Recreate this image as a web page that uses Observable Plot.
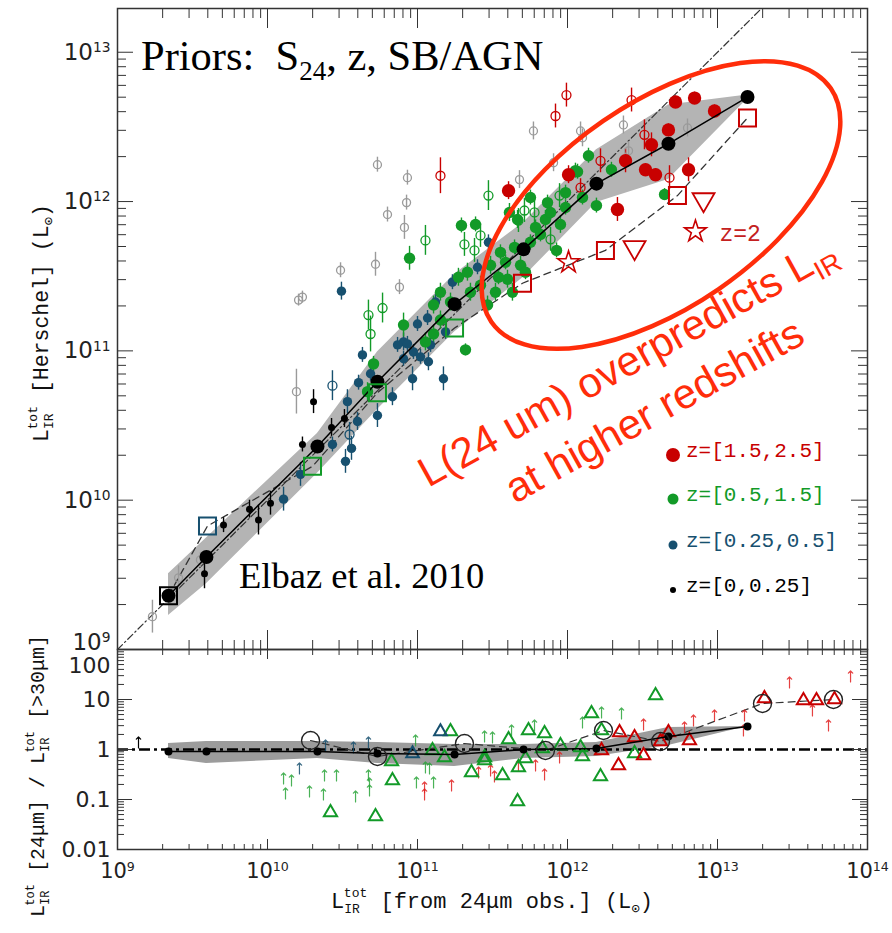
<!DOCTYPE html>
<html><head><meta charset="utf-8">
<script src="https://cdn.jsdelivr.net/npm/d3@7"></script>
<script src="https://cdn.jsdelivr.net/npm/@observablehq/plot@0.6"></script>
<style>
body{margin:0;background:#fff;}
#wrap{position:relative;width:892px;height:933px;overflow:hidden;background:#fff;}
#wrap svg{position:absolute;left:0;overflow:visible;}
</style></head><body><div id="wrap"></div>
<script>
// ---------- DATA (log10 units) ----------
// top panel: [log L_IR(24um), log L_IR(Herschel), half error bar in dex]
const blackSmall = [[9.58,9.507,0.1],[9.707,9.833,0.05],[9.88,9.94,0.06],[9.94,9.867,0.1],[10.02,9.98,0.08],[10.233,10.373,0.05],[10.307,10.66,0.08],[10.427,10.487,0.06],[10.513,10.547,0.06]];
const blueFilled = [[10.107,10.007,0.08],[10.22,10.173,0.08],[10.52,10.26,0.08],[10.56,10.347,0.08],[10.433,10.373,0.05],[10.6,10.527,0.06],[10.733,10.567,0.08],[10.533,10.66,0.08],[10.607,10.787,0.05],[10.633,10.973,0.05],[10.967,10.813,0.08],[10.907,11.06,0.06],[10.933,11.047,0.05],[10.973,10.993,0.05],[11.073,10.927,0.06],[11.173,10.813,0.08],[10.493,11.4,0.06],[10.867,11.04,0.05],[11.0,11.18,0.05],[11.12,11.327,0.05],[11.233,11.46,0.05],[11.4,11.56,0.05],[11.473,11.727,0.05],[11.067,11.22,0.05],[11.087,11.04,0.05],[10.907,10.947,0.05],[10.687,10.847,0.05],[10.833,10.693,0.06],[11.02,10.96,0.05],[11.187,11.127,0.05]];
const greenFilled = [[10.707,10.913,0.05],[10.667,10.727,0.06],[10.947,11.62,0.08],[10.907,11.173,0.08],[11.107,11.307,0.06],[11.107,11.113,0.06],[11.32,11.007,0.04],[11.293,11.84,0.05],[11.387,11.847,0.05],[11.467,11.307,0.06],[11.273,11.493,0.06],[11.613,11.927,0.06],[11.667,11.88,0.06],[11.867,11.993,0.05],[11.853,11.88,0.06],[11.953,11.847,0.06],[11.927,11.673,0.05],[12.067,12.2,0.05],[12.14,12.307,0.05],[12.193,11.973,0.05],[12.053,12.207,0.05],[12.1,12.027,0.05],[12.293,12.213,0.05],[12.647,12.047,0.04],[11.687,11.573,0.06],[11.6,11.48,0.06],[11.487,11.573,0.06],[11.42,11.44,0.06],[11.333,11.527,0.06],[11.553,11.66,0.05],[11.647,11.693,0.05],[11.753,11.727,0.05],[11.82,11.78,0.05],[11.587,11.593,0.05],[11.52,11.393,0.06],[11.633,11.393,0.06],[11.72,11.527,0.05],[11.353,11.393,0.06],[11.22,11.327,0.06],[11.153,11.393,0.06],[11.54,11.493,0.05],[11.787,11.827,0.05],[11.887,11.927,0.05],[11.987,11.96,0.05],[11.987,12.06,0.05],[11.753,12.027,0.05],[11.053,11.06,0.06],[11.153,11.207,0.06]];
const redFilled = [[11.607,12.073,0.06],[12.007,12.18,0.06],[12.72,12.667,0.04],[12.847,12.693,0.04],[12.98,12.607,0.04],[12.673,12.48,0.04],[12.56,12.38,0.08],[12.387,12.273,0.08],[12.52,12.213,0.04],[12.587,12.18,0.04],[12.807,12.213,0.08],[12.333,11.947,0.08]];
const grayOpen = [[9.233,9.22,0.11],[9.407,9.48,0.08],[9.553,9.6,0.05],[10.193,10.727,0.15],[10.233,11.36,0.04],[10.207,11.34,0.04],[10.487,11.54,0.05],[10.72,11.58,0.08],[10.88,11.427,0.05],[10.913,11.827,0.08],[10.8,11.913,0.05],[10.927,11.993,0.05],[10.733,12.247,0.05],[10.933,12.16,0.05],[11.68,12.147,0.06],[11.773,12.473,0.06],[12.087,12.473,0.06],[11.907,12.26,0.06],[12.373,12.513,0.06],[12.407,12.34,0.06],[12.8,12.493,0.06],[12.1,12.427,0.06]];
const blueOpen = [[10.433,10.767,0.1],[10.547,10.44,0.08]];
const greenOpen = [[10.687,11.113,0.12],[10.673,11.24,0.1],[10.767,11.287,0.1],[11.053,11.74,0.1],[11.313,11.713,0.08],[11.42,11.773,0.08],[11.38,11.673,0.08],[11.473,12.04,0.1],[11.713,11.94,0.08],[11.78,11.927,0.08],[11.947,12.04,0.08],[11.887,11.747,0.08],[11.673,11.873,0.08]];
const redOpen = [[11.153,12.173,0.12],[11.993,12.713,0.08],[11.92,12.573,0.08],[12.427,12.68,0.08],[12.513,12.447,0.1],[12.22,12.273,0.08],[12.087,12.093,0.06],[12.68,12.16,0.08]];

// median relation and its dispersion
const medX   = [9.34, 9.593, 10.333, 10.733, 11.247, 11.707, 12.193, 12.673, 13.2];
const medY   = [9.36, 9.62, 10.36, 10.793, 11.313, 11.68, 12.12, 12.387, 12.7];
const bandHi = [9.507, 9.747, 10.447, 10.993, 11.513, 11.86, 12.347, 12.647, 12.713];
const bandLo = [9.227, 9.44, 10.18, 10.607, 11.127, 11.493, 11.993, 12.147, 12.687];
// template predictions (squares) and their redshift bin
const sqX = [9.34, 9.6, 10.3, 10.733, 11.247, 11.7, 12.253, 12.733, 13.2];
const sqY = [9.36, 9.827, 10.227, 10.72, 11.153, 11.453, 11.673, 12.04, 12.56];
const sqBin = ["k","b","g","g","g","r","r","r","r"];
const downTri = [[12.447,11.693],[12.907,12.013]];
const stars = [[12.007,11.593],[12.853,11.8]];
const starLabel = ["", "z=2"];
const oneToOne = [9, 13.293];

// bottom panel: ratio L(24um)/L(>30um), log10
const ratioMed = [-0.04,-0.04,-0.04,-0.08,-0.1,0,0.02,0.26,0.46];
const ratioHi  = [0.12,0.16,0.16,0.14,0.1,0.1,0.14,0.44,0.46];
const ratioLo  = [-0.18,-0.28,-0.18,-0.28,-0.34,-0.18,-0.14,0.08,0.46];
const circX = [10.287,10.733,11.313,11.853,12.24,12.62,13.3,13.773];
const circR = [0.18,-0.14,0.12,-0.02,0.38,0.16,0.92,1.0];
const greenTri = [[10.42,-1.26],[10.72,-1.34],[10.827,-0.24],[10.833,-0.62],[11.22,0.36],[11.36,-0.46],[11.447,-0.22],[11.567,-0.52],[11.667,-1.04],[11.673,-0.36],[11.72,-0.18],[11.74,0.38],[11.847,0.32],[11.607,0.2],[12.1,-0.14],[12.16,0.72],[12.22,-0.54],[12.587,1.08],[12.447,-0.08],[11.953,0.08],[11.1,-0.02],[11.18,-0.16],[11.447,-0.16],[11.833,0.02],[12.087,0.04],[12.227,0.38]];
const redTri = [[12.347,0.34],[12.34,-0.32],[12.447,0.24],[12.507,-0.12],[12.673,0.34],[12.813,0.18],[13.313,1.02],[13.573,0.98],[13.66,0.98],[13.78,1.0],[12.227,-0.02],[12.62,0.16]];
const blueTri = [[11.153,0.36],[10.967,-0.08]];
const greenArrows = [[10.107,-0.58],[10.16,-0.62],[10.12,-0.88],[10.28,-0.84],[10.38,-0.52],[10.46,-0.52],[10.373,-0.9],[10.587,-0.94],[10.673,-0.52],[10.68,-0.68],[10.68,-0.82],[10.987,0.18],[10.993,-0.66],[11.053,-0.36],[11.08,-0.38],[11.107,-0.66],[11.447,0.26],[11.5,0.24],[11.627,0.38],[11.78,0.48],[12.1,0.54],[12.227,0.74],[12.36,0.72]];
const redArrows = [[11.847,-0.5],[11.487,-0.42],[11.513,-0.54],[11.407,-0.46],[11.227,-0.72],[11.047,-0.76],[11.047,-0.9],[11.947,-0.16],[11.787,-0.32],[11.673,-0.32],[13.48,1.34],[13.887,1.46],[13.74,0.48],[12.98,0.68],[12.84,0.58],[12.78,0.44],[12.507,0.5],[13.18,0.68],[13.633,0.78],[13.173,0.38]];
const blueArrows = [[10.213,-0.38],[10.387,0.08],[10.573,0.04],[10.673,0.14]];
const blackArrows = [[9.14,0.14]];

// axes
const xDecades = [9,10,11,12,13,14];
const yDecadesTop = [9,10,11,12,13];
const ratioTicks = [0.01,0.1,1,10,100];
const ratioTickLabels = ["0.01","0.1","1","10","100"];
const legendLabels = ["z=[1.5,2.5]","z=[0.5,1.5]","z=[0.25,0.5]","z=[0,0.25]"];

// ---------- STYLE ----------
const RED="#c80000", GREEN="#129a28", BLUE="#17506f", GRAY="#9a9a9a", BLACK="#000", ANN="#ff2d0a";
const binColor = {k:BLACK,b:BLUE,g:GREEN,r:RED};
const P = v => Math.pow(10, v);
const pts = arr => arr.map(([x,y,e]) => ({x:P(x), y:P(y), y1:P(y-(e||0)), y2:P(y+(e||0))}));
const W = 892, ML = 117, MR = 25, FW = W-ML-MR;
const TOPH = 650, TMT = 8, TMB = 1, TFH = TOPH-TMT-TMB;
const BOTH = 284, BMB = 84, BFH = BOTH-BMB;
function minor(decs, lo, hi){const o=[];for(const e of decs)for(let m=2;m<10;m++){const v=m*P(e);if(v>lo*1.0001&&v<hi*0.9999)o.push(v);}return o;}
const xMaj = xDecades.map(P), xMin = minor([9,10,11,12,13],1e9,1e14);
const yTopMax = P(oneToOne[1]);
const yMajTop = yDecadesTop.map(P), yMinTop = minor([9,10,11,12,13],1e9,yTopMax);
const rMin = minor([-2,-1,0,1],0.01,100);
const supFmt = d => `10^${Math.round(Math.log10(d))}`;

function ticksMarks(FH, ya, yb, yMajor, yMinor, xTop, xBot){
  return [
    Plot.ruleX(xMaj,{x:d=>d,insetBottom:FH-xTop[0],stroke:"#333"}),
    Plot.ruleX(xMin,{x:d=>d,insetBottom:FH-xTop[1],stroke:"#333"}),
    Plot.ruleX(xMaj,{x:d=>d,insetTop:FH-xBot[0],stroke:"#333"}),
    Plot.ruleX(xMin,{x:d=>d,insetTop:FH-xBot[1],stroke:"#333"}),
    Plot.ruleY(yMajor,{y:d=>d,insetRight:FW-ya,stroke:"#333"}),
    Plot.ruleY(yMinor,{y:d=>d,insetRight:FW-yb,stroke:"#333"}),
    Plot.ruleY(yMajor,{y:d=>d,insetLeft:FW-ya,stroke:"#333"}),
    Plot.ruleY(yMinor,{y:d=>d,insetLeft:FW-yb,stroke:"#333"}),
    Plot.frame({stroke:"#333",strokeWidth:1.5})
  ];
}
function errs(arr,color){return Plot.ruleX(pts(arr),{x:"x",y1:"y1",y2:"y2",stroke:color,strokeWidth:1.4});}
function supers(svg, shift){
  d3.select(svg).selectAll("text").each(function(){
    const txt=this.textContent;
    if(shift && shift[txt]!==undefined) this.setAttribute("dy", shift[txt]);
    const m=/^10\^(-?\d+)$/.exec(txt);
    if(m){const t=d3.select(this);t.text("10");t.append("tspan").attr("dy","-0.55em").attr("font-size","0.6em").text(m[1]);}
  });
}

const medians = medX.map((x,i)=>({x:P(x),y:P(medY[i]),lo:P(bandLo[i]),hi:P(bandHi[i]),r:P(ratioMed[i]),rlo:P(ratioLo[i]),rhi:P(ratioHi[i])}));
const squares = sqX.map((x,i)=>({x:P(x),y:P(sqY[i]),c:binColor[sqBin[i]]}));

// ---------- TOP PANEL ----------
const topPlot = Plot.plot({
  width:W, height:TOPH, marginLeft:ML, marginRight:MR, marginTop:TMT, marginBottom:TMB,
  style:{background:"none",overflow:"visible",fontFamily:"DejaVu Sans, sans-serif",fontSize:"23px",color:"#222"},
  x:{type:"log",domain:[1e9,1e14],axis:null},
  y:{type:"log",domain:[1e9,yTopMax]},
  marks:[
    Plot.areaY(medians,{x:"x",y1:"lo",y2:"hi",fill:"#b4b4b4"}),
    Plot.line(oneToOne.map(P),{x:d=>d,y:d=>d,stroke:"#333",strokeWidth:1.2,strokeDasharray:"7,3,1.5,3"}),
    Plot.line(squares,{x:"x",y:"y",stroke:"#333",strokeWidth:1.3,strokeDasharray:"7,5"}),
    errs(grayOpen,GRAY), errs(blueOpen,BLUE), errs(greenOpen,GREEN), errs(redOpen,RED),
    errs(blackSmall,BLACK), errs(blueFilled,BLUE), errs(greenFilled,GREEN), errs(redFilled,RED),
    Plot.dot(pts(grayOpen),{x:"x",y:"y",r:4,stroke:GRAY,strokeWidth:1.3,fill:"none"}),
    Plot.dot(pts(blueOpen),{x:"x",y:"y",r:4.5,stroke:BLUE,strokeWidth:1.3,fill:"none"}),
    Plot.dot(pts(greenOpen),{x:"x",y:"y",r:4.5,stroke:GREEN,strokeWidth:1.3,fill:"none"}),
    Plot.dot(pts(redOpen),{x:"x",y:"y",r:4.5,stroke:RED,strokeWidth:1.3,fill:"none"}),
    Plot.dot(pts(blackSmall),{x:"x",y:"y",r:3.5,fill:BLACK}),
    Plot.dot(pts(blueFilled),{x:"x",y:"y",r:4.7,fill:BLUE}),
    Plot.dot(pts(greenFilled),{x:"x",y:"y",r:5.7,fill:GREEN}),
    Plot.dot(pts(redFilled),{x:"x",y:"y",r:6.7,fill:RED}),
    Plot.line(medians,{x:"x",y:"y",stroke:BLACK,strokeWidth:1.5}),
    Plot.dot(medians,{x:"x",y:"y",r:7,fill:BLACK}),
    Plot.dot(squares,{x:"x",y:"y",symbol:"square",r:9.6,stroke:"c",strokeWidth:2,fill:"none"}),
    Plot.dot(downTri.map(([x,y])=>({x:P(x),y:P(y)})),{x:"x",y:"y",symbol:"triangle2",rotate:180,r:10.5,stroke:RED,strokeWidth:1.8,fill:"none"}),
    Plot.dot(stars.map(([x,y])=>({x:P(x),y:P(y)})),{x:"x",y:"y",symbol:"star",r:6.8,stroke:RED,strokeWidth:1.6,fill:"none"}),
    Plot.text(stars.map(([x,y],i)=>({x:P(x),y:P(y),t:starLabel[i]})),{x:"x",y:"y",text:"t",dx:24,dy:2,textAnchor:"start",fill:"#c42020",fontSize:23,fontFamily:"Liberation Mono, monospace"}),
    ...ticksMarks(TFH, 16, 9, yMajTop, yMinTop, [20,10], [19,9]),
    Plot.axisY(yMajTop,{anchor:"left",tickSize:0,tickPadding:7,tickFormat:supFmt,fontSize:23,label:null})
  ]
});
topPlot.style.top = "0px";
document.getElementById("wrap").appendChild(topPlot);
supers(topPlot, {"10^9":"-0.3em"});

// overlays on top panel
{
  const s = d3.select(topPlot);
  const t1 = s.append("text").attr("x",141).attr("y",70).attr("text-anchor","start").attr("font-family","Liberation Serif, Times New Roman, serif").attr("font-size",42.5).attr("fill","#000").style("white-space","pre");
  t1.append("tspan").text("Priors:  S");
  t1.append("tspan").attr("font-size",27).attr("dy",10).text("24");
  t1.append("tspan").attr("dy",-10).text(", z, SB/AGN");
  s.append("text").attr("x",239).attr("y",588).attr("text-anchor","start").attr("font-family","Liberation Serif, Times New Roman, serif").attr("font-size",36.5).attr("fill","#000").text("Elbaz et al. 2010");
  // y title
  const yt = s.append("text").attr("transform","translate(48,323) rotate(-90)").attr("text-anchor","middle").attr("font-family","Liberation Mono, monospace").attr("font-size",21.5).attr("fill","#111").style("white-space","pre");
  yt.append("tspan").text("L");
  yt.append("tspan").attr("font-size",13).attr("dy",5).text("IR");
  yt.append("tspan").attr("font-size",13).attr("dy",-16).attr("dx",-16).text("tot");
  yt.append("tspan").attr("dy",11).text(" [Herschel] (L");
  yt.append("tspan").attr("font-size",14).attr("dy",5).text("⊙");
  yt.append("tspan").attr("dy",-5).text(")");
  // legend
  const lc=[RED,GREEN,BLUE,BLACK], lr=[7,5.5,4.5,3], ly=[455,499,545,590];
  legendLabels.forEach((lab,i)=>{
    s.append("circle").attr("cx",673).attr("cy",ly[i]).attr("r",lr[i]).attr("fill",lc[i]);
    s.append("text").attr("x",686).attr("y",ly[i]+2).attr("text-anchor","start").attr("font-family","Liberation Mono, monospace").attr("font-size",21).attr("fill",lc[i]).text(lab);
  });
  // annotation
  s.append("ellipse").attr("cx",0).attr("cy",0).attr("rx",206).attr("ry",102).attr("transform","translate(661,205) rotate(-34.5)").attr("fill","none").attr("stroke",ANN).attr("stroke-width",4.5);
  const a = s.append("text").attr("transform","translate(634,374) rotate(-29)").attr("text-anchor","middle").attr("font-family","Liberation Sans, Arial, sans-serif").attr("font-size",42).attr("fill",ANN);
  a.append("tspan").attr("x",0).attr("y",0).text("L(24 um) overpredicts L");
  a.append("tspan").attr("font-size",27).attr("dy",9).text("IR");
  a.append("tspan").attr("x",0).attr("y",56).text("at higher redshifts");
}

// ---------- BOTTOM PANEL ----------
const tri = arr => arr.map(([x,r])=>({x:P(x),y:P(r)}));
const circles = circX.map((x,i)=>({x:P(x),y:P(circR[i])}));
const botPlot = Plot.plot({
  width:W, height:BOTH, marginLeft:ML, marginRight:MR, marginTop:0, marginBottom:BMB,
  style:{background:"none",overflow:"visible",fontFamily:"DejaVu Sans, sans-serif",fontSize:"22px",color:"#222"},
  x:{type:"log",domain:[1e9,1e14]},
  y:{type:"log",domain:[0.01,100]},
  marks:[
    Plot.areaY(medians,{x:"x",y1:"rlo",y2:"rhi",fill:"#9c9c9c"}),
    Plot.ruleY([1],{stroke:BLACK,strokeWidth:2.5,strokeDasharray:"11,4,3,4"}),
    Plot.line(circles,{x:"x",y:"y",stroke:"#333",strokeWidth:1.2,strokeDasharray:"7,5"}),
    Plot.vector(tri(greenArrows),{x:"x",y:"y",length:11,stroke:"#2aa43a",strokeWidth:1.2,strokeOpacity:0.85}),
    Plot.vector(tri(redArrows),{x:"x",y:"y",length:11,stroke:"#e02020",strokeWidth:1.2,strokeOpacity:0.85}),
    Plot.vector(tri(blueArrows),{x:"x",y:"y",length:11,stroke:BLUE,strokeWidth:1.2,strokeOpacity:0.85}),
    Plot.vector(tri(blackArrows),{x:"x",y:"y",length:11,stroke:BLACK,strokeWidth:1.2}),
    Plot.dot(tri(greenTri),{x:"x",y:"y",symbol:"triangle2",r:6.3,stroke:GREEN,strokeWidth:2,fill:"none"}),
    Plot.dot(tri(blueTri),{x:"x",y:"y",symbol:"triangle2",r:6,stroke:BLUE,strokeWidth:2,fill:"none"}),
    Plot.dot(tri(redTri),{x:"x",y:"y",symbol:"triangle2",r:6.3,stroke:RED,strokeWidth:2,fill:"none"}),
    Plot.line(medians,{x:"x",y:"r",stroke:BLACK,strokeWidth:1.5}),
    Plot.dot(medians,{x:"x",y:"r",r:4,fill:BLACK}),
    Plot.dot(circles,{x:"x",y:"y",r:9,stroke:"#222",strokeWidth:1.4,fill:"none"}),
    ...ticksMarks(BFH, 15, 7, ratioTicks, rMin, [10,6], [10,5]),
    Plot.axisY(ratioTicks,{anchor:"left",tickSize:0,tickPadding:7,tickFormat:d=>ratioTickLabels[ratioTicks.indexOf(d)],fontSize:22,label:null}),
    Plot.axisX(xMaj,{anchor:"bottom",tickSize:0,tickPadding:14,tickFormat:supFmt,fontSize:21,label:null})
  ]
});
botPlot.style.top = "649px";
document.getElementById("wrap").appendChild(botPlot);
supers(botPlot, {"100":"0.75em"});
{
  const s = d3.select(botPlot);
  const xt = s.append("text").attr("x",492).attr("y",259).attr("text-anchor","middle").attr("font-family","Liberation Mono, monospace").attr("font-size",22).attr("fill","#111").style("white-space","pre");
  xt.append("tspan").text("L");
  xt.append("tspan").attr("font-size",13).attr("dy",5).text("IR");
  xt.append("tspan").attr("font-size",13).attr("dy",-16).attr("dx",-16).text("tot");
  xt.append("tspan").attr("dy",11).text(" [from 24μm obs.] (L");
  xt.append("tspan").attr("font-size",14).attr("dy",5).text("⊙");
  xt.append("tspan").attr("dy",-5).text(")");
  const yt = s.append("text").attr("transform","translate(44,127) rotate(-90)").attr("text-anchor","middle").attr("font-family","Liberation Mono, monospace").attr("font-size",20).attr("fill","#111").style("white-space","pre");
  yt.append("tspan").text("L");
  yt.append("tspan").attr("font-size",12).attr("dy",5).text("IR");
  yt.append("tspan").attr("font-size",12).attr("dy",-15).attr("dx",-15).text("tot");
  yt.append("tspan").attr("dy",10).text(" [24μm] / L");
  yt.append("tspan").attr("font-size",12).attr("dy",5).text("IR");
  yt.append("tspan").attr("font-size",12).attr("dy",-15).attr("dx",-15).text("tot");
  yt.append("tspan").attr("dy",10).text(" [>30μm]");
}
</script></body></html>
